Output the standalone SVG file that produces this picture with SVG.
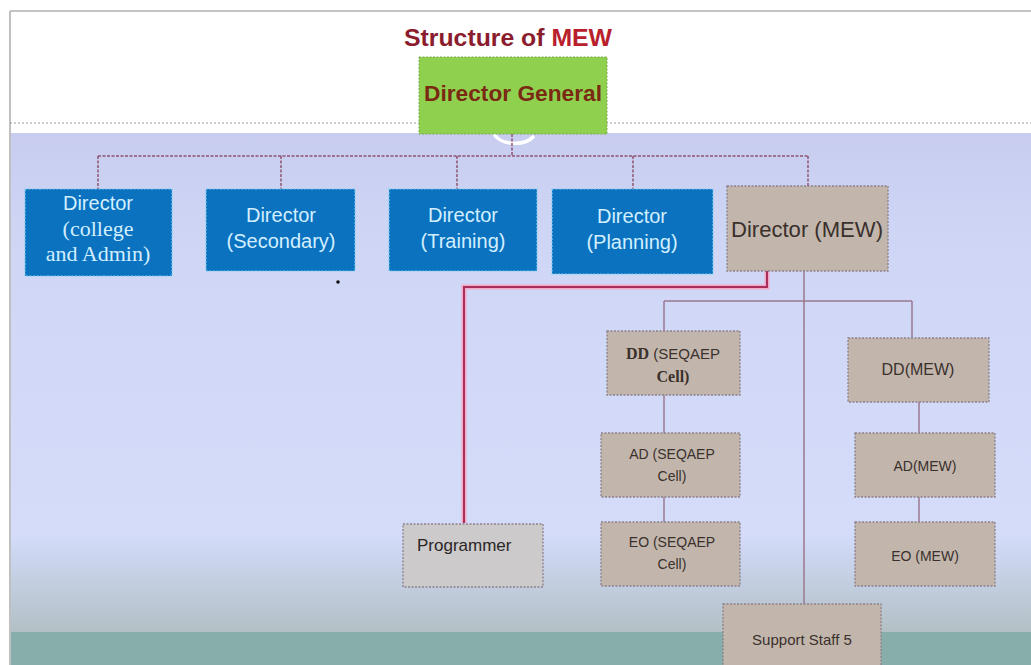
<svg xmlns="http://www.w3.org/2000/svg" width="1031" height="665" viewBox="0 0 1031 665">
  <defs>
    <linearGradient id="bandGrad" x1="0" y1="0" x2="0" y2="1">
      <stop offset="0" stop-color="#c8cdef"/>
      <stop offset="0.25" stop-color="#d0d7f6"/>
      <stop offset="0.8" stop-color="#d4dcfa"/>
      <stop offset="0.88" stop-color="#c6d0e6"/>
      <stop offset="1" stop-color="#b2c0c4"/>
    </linearGradient>
    <style>
      .sans { font-family: "Liberation Sans", Arial, sans-serif; }
      .serif { font-family: "Liberation Serif", "Times New Roman", serif; }
      .blue rect { fill: #0b72c0; stroke: #79cbef; stroke-width: 1.2; stroke-dasharray: 2 1.5; }
      .blue text { fill: #d2efff; text-anchor: middle; }
      .tan rect { fill: #c2b6ac; stroke: #8c808a; stroke-width: 1.3; stroke-dasharray: 2 1.5; }
      .tan text { fill: #3a302c; text-anchor: middle; }
      .grey rect { fill: #cccaca; stroke: #8c808a; stroke-width: 1.3; stroke-dasharray: 2 1.5; }
      .grey text { fill: #2a2626; }
      .top-link { fill: none; stroke: #8e5470; stroke-width: 1.5; stroke-dasharray: 3 1.5; }
      .sub-link { fill: none; stroke: #9a7a8e; stroke-width: 1.5; }
    </style>
  </defs>

  <!-- slide background -->
  <rect x="0" y="0" width="1031" height="665" fill="#ffffff"/>
  <rect x="10" y="133" width="1021" height="500" fill="url(#bandGrad)"/>
  <rect x="10" y="632" width="1021" height="33" fill="#87aeaa"/>
  <line x1="10" y1="11" x2="1031" y2="11" stroke="#c4c4c4" stroke-width="2"/>
  <line x1="10" y1="11" x2="10" y2="665" stroke="#c0c0c0" stroke-width="2"/>
  <line x1="10" y1="123" x2="1031" y2="123" stroke="#9a9a9a" stroke-width="1" stroke-dasharray="2 2"/>
  <!-- faint ring under the top box -->
  <path d="M 494 134 A 22 14 0 0 0 534 136" fill="none" stroke="#ffffff" stroke-width="3.5"/>

  <!-- title -->
  <text x="508" y="46" class="sans" font-size="24" font-weight="bold" text-anchor="middle" textLength="208" lengthAdjust="spacingAndGlyphs"><tspan fill="#8a1c2e">Structure  of </tspan><tspan fill="#b8202c">MEW</tspan></text>

  <!-- connectors -->
  <g id="connectors">
    <path class="top-link" d="M 512 134 V 156 M 98 156 H 808 M 98 156 V 189 M 281 156 V 189 M 457 156 V 189 M 633 156 V 189 M 808 156 V 186"/>
    <path d="M 767 271 V 287 H 464 V 523" fill="none" stroke="#f3a9c6" stroke-width="5"/>
    <path d="M 767 271 V 287 H 464 V 523" fill="none" stroke="#a8305a" stroke-width="2"/>
    <path class="sub-link" d="M 804 271 V 604 M 664 301 H 912 M 664 301 V 331 M 912 301 V 338 M 664 395 V 433 M 664 497 V 522 M 919 402 V 433 M 919 497 V 522"/>
    <circle cx="338" cy="282" r="1.8" fill="#111"/>
  </g>

  <g id="director-general">
    <rect x="419" y="57" width="188" height="77" fill="#8fd14f" stroke="#7aa850" stroke-width="1" stroke-dasharray="2 1.5"/>
    <text x="513" y="101" class="sans" font-size="22" font-weight="bold" fill="#7a2a12" text-anchor="middle" textLength="178" lengthAdjust="spacingAndGlyphs">Director General</text>
  </g>

  <g id="dir-college" class="blue">
    <rect x="25" y="189" width="147" height="87"/>
    <text x="98" y="210" class="sans" font-size="20">Director</text>
    <text x="98" y="236" class="serif" font-size="22">(college</text>
    <text x="98" y="261" class="serif" font-size="22">and Admin)</text>
  </g>

  <g id="dir-secondary" class="blue">
    <rect x="206" y="189" width="149" height="82"/>
    <text x="281" y="222" class="sans" font-size="20">Director</text>
    <text x="281" y="248" class="sans" font-size="20">(Secondary)</text>
  </g>

  <g id="dir-training" class="blue">
    <rect x="389" y="189" width="148" height="82"/>
    <text x="463" y="222" class="sans" font-size="20">Director</text>
    <text x="463" y="248" class="sans" font-size="20">(Training)</text>
  </g>

  <g id="dir-planning" class="blue">
    <rect x="552" y="189" width="161" height="85"/>
    <text x="632" y="223" class="sans" font-size="20">Director</text>
    <text x="632" y="249" class="sans" font-size="20">(Planning)</text>
  </g>

  <g id="dir-mew" class="tan">
    <rect x="727" y="186" width="161" height="85"/>
    <text x="807" y="237" class="sans" font-size="22" textLength="152" lengthAdjust="spacingAndGlyphs">Director (MEW)</text>
  </g>

  <g id="dd-seqaep" class="tan">
    <rect x="607" y="331" width="133" height="64"/>
    <text x="673" y="359" font-size="16"><tspan class="serif" font-weight="bold">DD</tspan><tspan class="sans" font-size="15"> (SEQAEP</tspan></text>
    <text x="673" y="382" class="serif" font-size="16" font-weight="bold">Cell)</text>
  </g>

  <g id="ad-seqaep" class="tan">
    <rect x="601" y="433" width="139" height="64"/>
    <text x="672" y="459" class="sans" font-size="14">AD (SEQAEP</text>
    <text x="672" y="481" class="sans" font-size="14">Cell)</text>
  </g>

  <g id="eo-seqaep" class="tan">
    <rect x="601" y="522" width="139" height="64"/>
    <text x="672" y="547" class="sans" font-size="14">EO  (SEQAEP</text>
    <text x="672" y="569" class="sans" font-size="14">Cell)</text>
  </g>

  <g id="dd-mew" class="tan">
    <rect x="848" y="338" width="141" height="64"/>
    <text x="918" y="375" class="sans" font-size="16">DD(MEW)</text>
  </g>

  <g id="ad-mew" class="tan">
    <rect x="855" y="433" width="140" height="64"/>
    <text x="925" y="471" class="sans" font-size="14">AD(MEW)</text>
  </g>

  <g id="eo-mew" class="tan">
    <rect x="855" y="522" width="140" height="64"/>
    <text x="925" y="561" class="sans" font-size="14">EO (MEW)</text>
  </g>

  <g id="programmer" class="grey">
    <rect x="403" y="524" width="140" height="63"/>
    <text x="417" y="551" class="sans" font-size="17">Programmer</text>
  </g>

  <g id="support-staff" class="tan">
    <rect x="723" y="604" width="158" height="70"/>
    <text x="802" y="645" class="sans" font-size="15">Support  Staff 5</text>
  </g>
</svg>
